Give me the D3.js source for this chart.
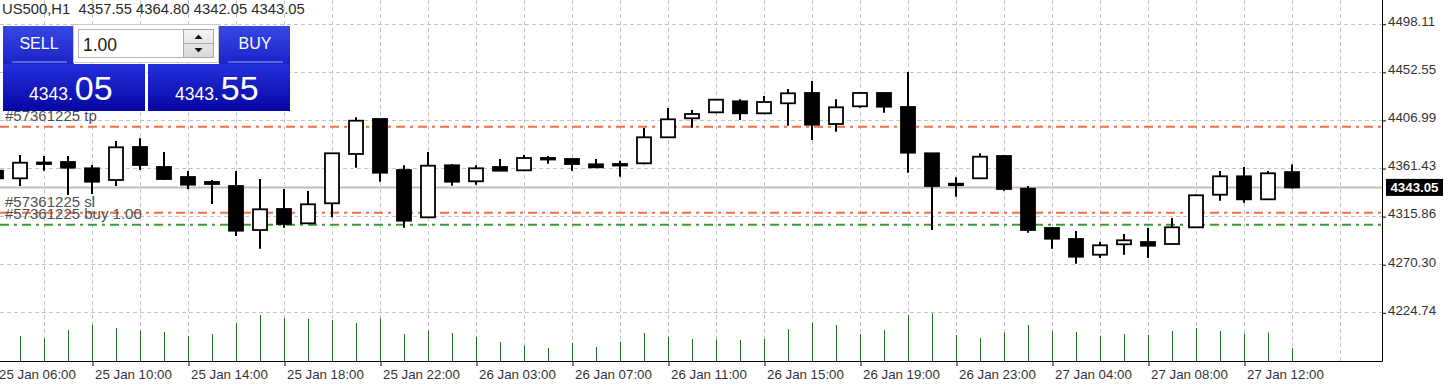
<!DOCTYPE html>
<html>
<head>
<meta charset="utf-8">
<script src="https://cdn.jsdelivr.net/npm/d3@7"></script>
<style>
  body { margin: 0; background: #fff; overflow: hidden; }
  svg { display: block; font-family: "Liberation Sans", Arial, sans-serif; }
</style>
</head>
<body>
<svg id="chart" width="1448" height="389"></svg>
<script>
// bar times, first one is only half visible on the left edge
const barTimes = [
  "25 Jan 06:00", "25 Jan 07:00", "25 Jan 08:00", "25 Jan 09:00", "25 Jan 10:00", "25 Jan 11:00",
  "25 Jan 12:00", "25 Jan 13:00", "25 Jan 14:00", "25 Jan 15:00", "25 Jan 16:00", "25 Jan 17:00",
  "25 Jan 18:00", "25 Jan 19:00", "25 Jan 20:00", "25 Jan 21:00", "25 Jan 22:00", "25 Jan 23:00",
  "26 Jan 01:00", "26 Jan 02:00", "26 Jan 03:00", "26 Jan 04:00", "26 Jan 05:00", "26 Jan 06:00",
  "26 Jan 07:00", "26 Jan 08:00", "26 Jan 09:00", "26 Jan 10:00", "26 Jan 11:00", "26 Jan 12:00",
  "26 Jan 13:00", "26 Jan 14:00", "26 Jan 15:00", "26 Jan 16:00", "26 Jan 17:00", "26 Jan 18:00",
  "26 Jan 19:00", "26 Jan 20:00", "26 Jan 21:00", "26 Jan 22:00", "26 Jan 23:00", "27 Jan 01:00",
  "27 Jan 02:00", "27 Jan 03:00", "27 Jan 04:00", "27 Jan 05:00", "27 Jan 06:00", "27 Jan 07:00",
  "27 Jan 08:00", "27 Jan 09:00", "27 Jan 10:00", "27 Jan 11:00", "27 Jan 12:00", "27 Jan 13:00",
  "27 Jan 14:00"
];

const open = [4358.87, 4351.67, 4366.16, 4367.11, 4361.14, 4350.06, 4381.32, 4362.37, 4352.90, 4348.16,
  4344.37, 4302.69, 4322.59, 4309.04, 4327.99, 4374.69, 4407.84, 4359.53, 4314.73, 4363.98,
  4348.83, 4362.37, 4359.25, 4369.95, 4369.95, 4364.93, 4364.93, 4365.88, 4390.50, 4408.50,
  4414.18, 4424.60, 4413.24, 4422.71, 4432.47, 4403.10, 4419.87, 4432.47, 4419.21, 4375.35,
  4346.27, 4351.67, 4372.79, 4341.82, 4304.59, 4294.17, 4279.30, 4289.15, 4291.33, 4289.43,
  4305.25, 4336.13, 4353.56, 4331.77, 4357.55];
const high = [4361.42, 4373.74, 4372.79, 4372.79, 4364.27, 4387.00, 4389.56, 4376.58, 4358.58, 4350.06,
  4358.58, 4351.00, 4341.53, 4339.64, 4375.35, 4409.45, 4407.84, 4363.98, 4376.58, 4364.93,
  4363.98, 4369.95, 4373.74, 4372.79, 4369.95, 4369.95, 4368.34, 4399.31, 4418.26, 4416.36,
  4426.12, 4426.50, 4429.62, 4436.26, 4443.83, 4426.50, 4433.13, 4432.47, 4452.36, 4375.35,
  4352.61, 4375.35, 4373.45, 4344.37, 4304.59, 4301.75, 4291.33, 4298.91, 4304.59, 4314.06,
  4336.51, 4358.58, 4362.37, 4358.58, 4364.80];
const low = [4350.06, 4344.37, 4358.87, 4335.85, 4336.80, 4344.37, 4359.53, 4350.06, 4341.53, 4327.32,
  4297.01, 4284.98, 4304.87, 4308.38, 4314.73, 4361.71, 4348.45, 4304.87, 4314.73, 4344.66,
  4345.61, 4358.87, 4359.25, 4365.50, 4358.87, 4362.09, 4353.18, 4364.93, 4390.50, 4399.60,
  4413.24, 4406.89, 4413.24, 4401.49, 4387.95, 4395.81, 4418.54, 4413.81, 4356.97, 4302.69,
  4334.24, 4351.67, 4339.92, 4300.14, 4284.98, 4270.77, 4276.17, 4279.30, 4276.17, 4289.43,
  4305.25, 4330.45, 4328.55, 4331.77, 4342.05];
const close = [4351.67, 4366.44, 4366.63, 4361.71, 4348.45, 4381.03, 4364.27, 4351.00, 4345.61, 4346.27,
  4302.03, 4322.30, 4308.38, 4327.04, 4375.35, 4406.23, 4356.97, 4311.50, 4363.60, 4348.45,
  4361.14, 4358.87, 4370.90, 4370.90, 4365.21, 4362.09, 4365.21, 4390.50, 4407.55, 4412.57,
  4426.12, 4413.24, 4423.94, 4432.18, 4402.44, 4418.92, 4432.47, 4419.49, 4375.92, 4344.37,
  4346.55, 4372.13, 4341.53, 4302.69, 4294.45, 4277.40, 4288.20, 4292.94, 4287.82, 4305.25,
  4335.56, 4353.56, 4331.77, 4356.40, 4343.05];
const volume = [2600, 2500, 2270, 3100, 3600, 3270, 3030, 2900, 2500, 2700,
  3770, 4600, 4270, 4200, 4100, 3800, 4270, 2700, 3030, 2800,
  2400, 1900, 1570, 1300, 1830, 1400, 1930, 2800, 2400, 2200,
  2130, 2100, 2200, 3170, 3830, 3600, 2700, 3100, 4600, 4770,
  2600, 2300, 2870, 3600, 2970, 2900, 2530, 2700, 2630, 3000,
  3300, 3000, 2730, 2830, 1300];

const tickTimes = ["25 Jan 06:00", "25 Jan 10:00", "25 Jan 14:00", "25 Jan 18:00", "25 Jan 22:00",
  "26 Jan 03:00", "26 Jan 07:00", "26 Jan 11:00", "26 Jan 15:00", "26 Jan 19:00", "26 Jan 23:00",
  "27 Jan 04:00", "27 Jan 08:00", "27 Jan 12:00"];
const priceTicks = [4498.11, 4452.55, 4406.99, 4361.43, 4315.86, 4270.30, 4224.74];

// order lines
const orderNames = ["#57361225 tp", "#57361225 sl", "#57361225 buy 1.00"];
const orderPrices = [4400.5, 4319.1, 4307.7];
const orderColors = ["#f07048", "#f07048", "#3a9a3a"];

const symbol = "US500,H1";
const lots = "1.00";
const bid = 4343.05, ask = 4343.55;

const PLOT_R = 1382, PLOT_B = 361;

const svg = d3.select("#chart");

const x = d3.scaleLinear().domain([0, 54]).range([-4, 1292]);
const y = d3.scaleLinear().domain([4224.74, 4498.11]).range([312.3, 23.7]);
const v = d3.scaleLinear().domain([0, 5000]).range([PLOT_B, PLOT_B - 50]);

const bars = barTimes.map((t, i) => ({
  i: i, t: t, o: open[i], h: high[i], l: low[i], c: close[i], vol: volume[i]
}));

// grid
const grid = svg.append("g").attr("stroke", "#c4c4c4").attr("stroke-dasharray", "4,3");
grid.selectAll("line.h")
  .data(priceTicks)
  .enter().append("line")
  .attr("x1", 0).attr("x2", PLOT_R)
  .attr("y1", d => Math.round(y(d)) + 0.5).attr("y2", d => Math.round(y(d)) + 0.5);
grid.selectAll("line.v")
  .data(d3.range(2, 57, 2))
  .enter().append("line")
  .attr("x1", d => x(d) + 0.5).attr("x2", d => x(d) + 0.5)
  .attr("y1", 0).attr("y2", PLOT_B);

// current bid line
svg.append("line")
  .attr("x1", 0).attr("x2", PLOT_R)
  .attr("y1", y(bid)).attr("y2", y(bid))
  .attr("stroke", "#d0b8b8").attr("stroke-width", 2);

// volumes
svg.append("g").selectAll("line")
  .data(bars)
  .enter().append("line")
  .attr("x1", d => x(d.i) + 0.5).attr("x2", d => x(d.i) + 0.5)
  .attr("y1", PLOT_B).attr("y2", d => v(d.vol))
  .attr("stroke", "#1d6b1d").attr("stroke-width", 1);

// order lines
svg.append("g").selectAll("line")
  .data(orderPrices)
  .enter().append("line")
  .attr("x1", 0).attr("x2", PLOT_R)
  .attr("y1", d => y(d)).attr("y2", d => y(d))
  .attr("stroke", (d, i) => orderColors[i])
  .attr("stroke-width", 2)
  .attr("stroke-dasharray", "9,5,3,5");

// candles
const cg = svg.append("g");
cg.selectAll("line.wick")
  .data(bars)
  .enter().append("line")
  .attr("x1", d => x(d.i)).attr("x2", d => x(d.i))
  .attr("y1", d => y(d.h)).attr("y2", d => y(d.l))
  .attr("stroke", "#000").attr("stroke-width", 2);

cg.selectAll("rect.body")
  .data(bars)
  .enter().append("rect")
  .attr("x", d => x(d.i) - 7)
  .attr("width", 14)
  .attr("y", d => y(Math.max(d.o, d.c)))
  .attr("height", d => Math.max(Math.abs(y(d.o) - y(d.c)), 1.5))
  .attr("fill", d => d.c >= d.o ? "#fff" : "#000")
  .attr("stroke", "#000")
  .attr("stroke-width", 1.8);

// order labels
svg.append("g").selectAll("text")
  .data(orderNames)
  .enter().append("text")
  .attr("x", 5)
  .attr("y", (d, i) => y(orderPrices[i]) - 6)
  .attr("font-size", 15)
  .attr("fill", "#505050")
  .text(d => d);

// axes
const xAxis = d3.axisBottom(x)
  .tickValues(tickTimes.map(t => barTimes.indexOf(t)))
  .tickSize(5)
  .tickFormat(i => barTimes[i]);
const gx = svg.append("g").attr("transform", `translate(0.5,${PLOT_B})`).call(xAxis);
gx.select(".domain").remove();
gx.selectAll(".tick line").attr("stroke", "#000");
gx.selectAll(".tick text")
  .attr("text-anchor", "start").attr("x", 2).attr("y", 9)
  .attr("font-family", "Liberation Sans, Arial, sans-serif")
  .attr("font-size", 13.3).attr("fill", "#333");

const yAxis = d3.axisRight(y)
  .tickValues(priceTicks)
  .tickSize(4)
  .tickFormat(d3.format(".2f"));
const gy = svg.append("g").attr("transform", `translate(${PLOT_R},0.5)`).call(yAxis);
gy.select(".domain").remove();
gy.selectAll(".tick line").attr("stroke", "#000");
gy.selectAll(".tick text")
  .attr("x", 6).attr("dy", "0.1em")
  .attr("font-family", "Liberation Sans, Arial, sans-serif")
  .attr("font-size", 13.3).attr("fill", "#333");

svg.append("line").attr("x1", 0).attr("x2", PLOT_R + 0.5)
  .attr("y1", PLOT_B + 0.5).attr("y2", PLOT_B + 0.5).attr("stroke", "#000");
svg.append("line").attr("x1", PLOT_R + 0.5).attr("x2", PLOT_R + 0.5)
  .attr("y1", 0).attr("y2", PLOT_B + 0.5).attr("stroke", "#000");

// bid label on the axis
svg.append("rect")
  .attr("x", PLOT_R + 4).attr("y", y(bid) - 8.5)
  .attr("width", 57).attr("height", 17).attr("fill", "#000");
svg.append("text")
  .attr("x", PLOT_R + 32.5).attr("y", y(bid) + 5)
  .attr("text-anchor", "middle")
  .attr("font-size", 13.3).attr("font-weight", "bold").attr("fill", "#fff")
  .text(bid.toFixed(2));

// header
const last = bars[bars.length - 1];
svg.append("text")
  .attr("x", 2).attr("y", 14)
  .attr("font-size", 14.8).attr("fill", "#2a2a2a")
  .style("white-space", "pre")
  .text(`${symbol}  ${last.o.toFixed(2)} ${last.h.toFixed(2)} ${last.l.toFixed(2)} ${last.c.toFixed(2)}`);

// one click trading panel
const defs = svg.append("defs");
const g1 = defs.append("linearGradient").attr("id", "btnTop").attr("x1", 0).attr("x2", 0).attr("y1", 0).attr("y2", 1);
g1.append("stop").attr("offset", 0).attr("stop-color", "#3848e4");
g1.append("stop").attr("offset", 1).attr("stop-color", "#1a22c8");
const g2 = defs.append("linearGradient").attr("id", "btnBot").attr("x1", 0).attr("x2", 0).attr("y1", 0).attr("y2", 1);
g2.append("stop").attr("offset", 0).attr("stop-color", "#2430dc");
g2.append("stop").attr("offset", 1).attr("stop-color", "#0606a2");
const g3 = defs.append("linearGradient").attr("id", "spin").attr("x1", 0).attr("x2", 0).attr("y1", 0).attr("y2", 1);
g3.append("stop").attr("offset", 0).attr("stop-color", "#f4f4f4");
g3.append("stop").attr("offset", 1).attr("stop-color", "#d8d8d8");

const panel = svg.append("g");
// sell / buy tops
panel.append("rect").attr("x", 3).attr("y", 26).attr("width", 71).attr("height", 38).attr("fill", "url(#btnTop)");
panel.append("rect").attr("x", 219).attr("y", 26).attr("width", 71).attr("height", 38).attr("fill", "url(#btnTop)");
// lot input
panel.append("rect").attr("x", 73.5).attr("y", 24.5).attr("width", 145).attr("height", 38).attr("fill", "#fff").attr("stroke", "#c8c8c8");
panel.append("rect").attr("x", 78.5).attr("y", 29.5).attr("width", 135).attr("height", 28).attr("fill", "#fff").attr("stroke", "#b4b4b4");
panel.append("rect").attr("x", 183.5).attr("y", 29.5).attr("width", 30).attr("height", 28).attr("fill", "url(#spin)").attr("stroke", "#a8a8a8");
panel.append("line").attr("x1", 183.5).attr("x2", 213.5).attr("y1", 43.5).attr("y2", 43.5).attr("stroke", "#a8a8a8");
panel.append("path").attr("d", "M194.5,39 L198.5,34.5 L202.5,39 Z").attr("fill", "#111");
panel.append("path").attr("d", "M194.5,48 L198.5,52.5 L202.5,48 Z").attr("fill", "#111");
panel.append("text").attr("x", 83).attr("y", 51).attr("font-size", 17.5).attr("fill", "#1a1a1a").text(lots);

// bottom price boxes
panel.append("rect").attr("x", 3).attr("y", 64).attr("width", 142).attr("height", 47).attr("fill", "url(#btnBot)");
panel.append("rect").attr("x", 148).attr("y", 64).attr("width", 142).attr("height", 47).attr("fill", "url(#btnBot)");

panel.append("text").attr("x", 39).attr("y", 49).attr("text-anchor", "middle")
  .attr("font-size", 16).attr("fill", "#fff").text("SELL");
panel.append("line").attr("x1", 12).attr("x2", 67).attr("y1", 62).attr("y2", 62).attr("stroke", "#9aa4f4").attr("stroke-width", 1);
panel.append("text").attr("x", 255).attr("y", 49).attr("text-anchor", "middle")
  .attr("font-size", 16).attr("fill", "#fff").text("BUY");
panel.append("line").attr("x1", 228).attr("x2", 283).attr("y1", 62).attr("y2", 62).attr("stroke", "#9aa4f4").attr("stroke-width", 1);

function priceText(xr, val) {
  const s = val.toFixed(2);
  const dot = s.indexOf(".");
  const t = panel.append("text").attr("x", xr).attr("y", 100).attr("fill", "#fff");
  t.append("tspan").attr("font-size", 17.5).text(s.slice(0, dot + 1));
  t.append("tspan").attr("font-size", 34).attr("dx", 2).text(s.slice(dot + 1));
}
priceText(29, bid);
priceText(175, ask);
</script>
</body>
</html>
